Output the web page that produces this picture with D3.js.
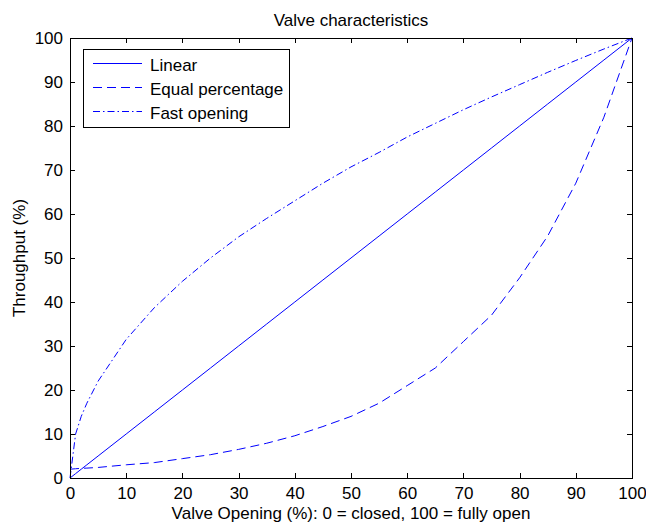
<!DOCTYPE html>
<html>
<head>
<meta charset="utf-8">
<script src="https://cdn.jsdelivr.net/npm/d3@7"></script>
<style>
  body { margin: 0; background: #fff; }
  svg { font-family: "Liberation Sans", Arial, sans-serif; }
  .axis path, .axis line { stroke: #000; shape-rendering: crispEdges; }
  .axis text { font-size: 17px; fill: #000; font-family: "Liberation Sans", Arial, sans-serif; }
</style>
</head>
<body>
<div id="chart-area"><svg></svg></div>
<script>
const CHART_SIZE = { width: 646, height: 527 };
const MARGIN = { left: 70, right: 14, top: 38, bottom: 49 };
const HEIGHT = CHART_SIZE.height - MARGIN.top - MARGIN.bottom;
const WIDTH = CHART_SIZE.width - MARGIN.left - MARGIN.right;

// valve opening (%) sample points
const opening = [0, 1, 2, 3, 5, 10, 15, 20, 25, 30, 35, 40, 45, 50, 55, 60, 65, 70, 75, 80, 85, 90, 95, 100];
const linearFlow = [0, 1, 2, 3, 5, 10, 15, 20, 25, 30, 35, 40, 45, 50, 55, 60, 65, 70, 75, 80, 85, 90, 95, 100];
const equalPctFlow = [2, 2.1, 2.2, 2.25, 2.4, 3, 3.5, 4.4, 5.3, 6.5, 7.9, 9.6, 11.7, 14, 17, 21, 25, 31, 37, 45.5, 55, 67, 82, 100];
const fastOpeningFlow = [0, 10, 14, 17, 22, 31.5, 38.7, 44.7, 50, 54.8, 59, 63, 67, 70.7, 74, 77.5, 80.6, 83.7, 86.6, 89.4, 92.2, 94.9, 97.5, 100];
const xTicks = [0, 10, 20, 30, 40, 50, 60, 70, 80, 90, 100];
const yTicks = [0, 10, 20, 30, 40, 50, 60, 70, 80, 90, 100];

const series = [
  ["Linear", linearFlow, "none"],
  ["Equal percentage", equalPctFlow, "9,5"],
  ["Fast opening", fastOpeningFlow, "7,3,1.5,3"]
];

const svg = d3.select("#chart-area svg")
  .attr("width", CHART_SIZE.width)
  .attr("height", CHART_SIZE.height);

const x = d3.scaleLinear().domain([0, 100]).range([0, WIDTH]);
const y = d3.scaleLinear().domain([0, 100]).range([HEIGHT, 0]);

const g = svg.append("g")
  .attr("transform", `translate(${MARGIN.left},${MARGIN.top})`);

const line = d3.line()
  .x((d, i) => x(opening[i]))
  .y(d => y(d));

g.selectAll("path.curve")
  .data(series)
  .enter()
  .append("path")
  .attr("class", "curve")
  .attr("d", s => line(s[1]))
  .attr("fill", "none")
  .attr("stroke", "#0000ff")
  .attr("stroke-width", 1)
  .attr("stroke-dasharray", s => s[2]);

// axes with inward ticks on all four sides
g.append("g").attr("class", "x axis")
  .attr("transform", `translate(0,${HEIGHT})`)
  .call(d3.axisBottom(x).tickValues(xTicks).tickSizeInner(-5).tickSizeOuter(0).tickPadding(9));
g.append("g").attr("class", "x axis top")
  .call(d3.axisTop(x).tickValues(xTicks).tickSizeInner(-5).tickSizeOuter(0).tickFormat(""));
g.append("g").attr("class", "y axis")
  .call(d3.axisLeft(y).tickValues(yTicks).tickSizeInner(-5).tickSizeOuter(0).tickPadding(7));
g.append("g").attr("class", "y axis right")
  .attr("transform", `translate(${WIDTH},0)`)
  .call(d3.axisRight(y).tickValues(yTicks).tickSizeInner(-5).tickSizeOuter(0).tickFormat(""));

// legend
const legend = g.append("g").attr("transform", "translate(13,11)");
legend.append("rect")
  .attr("width", 206).attr("height", 78)
  .attr("fill", "#fff").attr("stroke", "#000")
  .attr("shape-rendering", "crispEdges");
const rows = legend.selectAll("g.row")
  .data(series)
  .enter()
  .append("g")
  .attr("class", "row")
  .attr("transform", (s, i) => `translate(0,${14.5 + i * 24})`);
rows.append("line")
  .attr("x1", 10).attr("x2", 59)
  .attr("stroke", "#0000ff")
  .attr("stroke-dasharray", s => s[2]);
rows.append("text")
  .attr("x", 67).attr("y", 7)
  .attr("font-size", 17)
  .text(s => s[0]);

svg.append("text")
  .attr("x", MARGIN.left + WIDTH / 2).attr("y", 26)
  .attr("text-anchor", "middle").attr("font-size", 17)
  .text("Valve characteristics");

svg.append("text")
  .attr("x", MARGIN.left + WIDTH / 2).attr("y", 519)
  .attr("text-anchor", "middle").attr("font-size", 17)
  .text("Valve Opening (%): 0 = closed, 100 = fully open");

svg.append("text")
  .attr("transform", `translate(25,${MARGIN.top + HEIGHT / 2}) rotate(-90)`)
  .attr("text-anchor", "middle").attr("font-size", 17)
  .text("Throughput (%)");
</script>
</body>
</html>
